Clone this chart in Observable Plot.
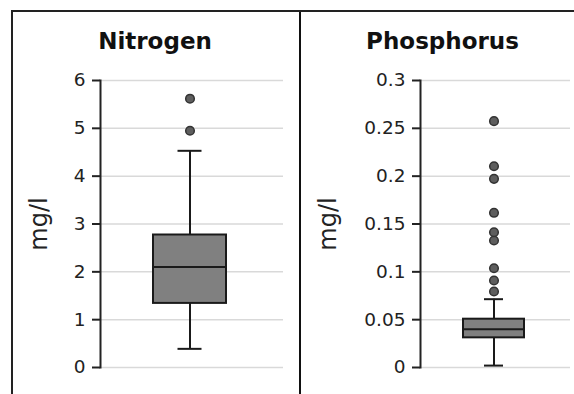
<!DOCTYPE html>
<html>
<head>
<meta charset="utf-8">
<script src="https://cdn.jsdelivr.net/npm/d3@7"></script>
<script src="https://cdn.jsdelivr.net/npm/@observablehq/plot@0.6"></script>
<style>
  html, body { margin: 0; padding: 0; background: #fff; }
  #wrap { position: relative; width: 574px; height: 394px; overflow: hidden; background: #fff; }
  #wrap svg { position: absolute; top: 0; background: transparent; }
  .border { position: absolute; z-index: 2; }
</style>
</head>
<body>
<div id="wrap">
  <div class="border" style="left:11px; top:10px; width:563px; height:384px; border-left:2px solid #222; border-top:2px solid #222;"></div>
  <div class="border" style="left:299px; top:12px; width:2px; height:382px; background:#111;"></div>
</div>
<script>
// ---- data ----
const panelNames = ["Nitrogen", "Phosphorus"];
const yLabel = "mg/l";
// [lower whisker, q1, median, q3, upper whisker]
const nitrogenStats = [0.39, 1.34, 2.10, 2.77, 4.53];
const nitrogenOutliers = [4.95, 5.62];
const phosphorusStats = [0.002, 0.031, 0.040, 0.0505, 0.0714];
const phosphorusOutliers = [0.0794, 0.0909, 0.1038, 0.1327, 0.1414, 0.1617, 0.1972, 0.2104, 0.2575];
const nitrogenTicks = [0, 1, 2, 3, 4, 5, 6];
const nitrogenTickLabels = ["0", "1", "2", "3", "4", "5", "6"];
const phosphorusTicks = [0, 0.05, 0.1, 0.15, 0.2, 0.25, 0.3];
const phosphorusTickLabels = ["0", "0.05", "0.1", "0.15", "0.2", "0.25", "0.3"];

function panel(cfg) {
  const name = cfg.name;
  const s = cfg.stats;
  const box = [{name, lo: s[0], q1: s[1], med: s[2], q3: s[3], hi: s[4]}];
  const caps = [{name, v: s[0]}, {name, v: s[4]}];
  const outs = cfg.outliers.map(v => ({name, v}));
  const ink = "#1a1a1a";
  return Plot.plot({
    width: cfg.width,
    height: 394,
    marginLeft: cfg.marginLeft,
    marginRight: cfg.marginRight,
    marginTop: 80,
    marginBottom: 27,
    style: {fontFamily: "DejaVu Sans", background: "transparent", overflow: "visible"},
    x: {type: "band", domain: [name], range: cfg.boxRange, padding: 0, axis: null},
    y: {domain: cfg.domain, axis: null},
    marks: [
      Plot.gridY(cfg.ticks, {stroke: "#d9d9d9", strokeOpacity: 1, strokeWidth: 1.5}),
      Plot.axisY(cfg.ticks, {
        tickSize: 8, tickPadding: 7, fontSize: 18.5, label: null, stroke: "#222", strokeWidth: 2,
        fill: "#222",
        tickFormat: d => cfg.tickLabels[cfg.ticks.indexOf(d)]
      }),
      Plot.frame({anchor: "left", stroke: "#222", strokeWidth: 2}),
      Plot.ruleX(box, {x: "name", y1: "lo", y2: "hi", stroke: ink, strokeWidth: 2}),
      Plot.tickY(caps, {x: "name", y: "v", stroke: ink, strokeWidth: 2, insetLeft: cfg.capInset, insetRight: cfg.capInset}),
      Plot.barY(box, {x: "name", y1: "q1", y2: "q3", fill: "#808080", stroke: ink, strokeWidth: 2}),
      Plot.tickY(box, {x: "name", y: "med", stroke: ink, strokeWidth: 2}),
      Plot.dot(outs, {x: "name", y: "v", r: 4.3, fill: "#5e5e5e", stroke: "#333", strokeWidth: 1.5}),
      Plot.text([name], {frameAnchor: "top", dx: cfg.titleDx, dy: -39, lineAnchor: "middle",
        fontSize: 23, fontWeight: "bold", fill: "#111"}),
      Plot.text([yLabel], {frameAnchor: "left", dx: cfg.labelDx, rotate: -90, lineAnchor: "middle",
        textAnchor: "middle", fontSize: 24, fill: "#222"})
    ]
  });
}

const wrap = document.getElementById("wrap");
const p1 = panel({
  name: panelNames[0], stats: nitrogenStats, outliers: nitrogenOutliers,
  ticks: nitrogenTicks, tickLabels: nitrogenTickLabels, domain: [0, 6],
  width: 299, marginLeft: 100, marginRight: 16, boxRange: [153, 226], capInset: 24.5,
  titleDx: -37, labelDx: -61
});
p1.style.left = "0px";
const p2 = panel({
  name: panelNames[1], stats: phosphorusStats, outliers: phosphorusOutliers,
  ticks: phosphorusTicks, tickLabels: phosphorusTickLabels, domain: [0, 0.3],
  width: 273, marginLeft: 119, marginRight: 4, boxRange: [162, 223], capInset: 21,
  titleDx: -53, labelDx: -92
});
p2.style.left = "301px";
wrap.appendChild(p1);
wrap.appendChild(p2);
</script>
</body>
</html>
